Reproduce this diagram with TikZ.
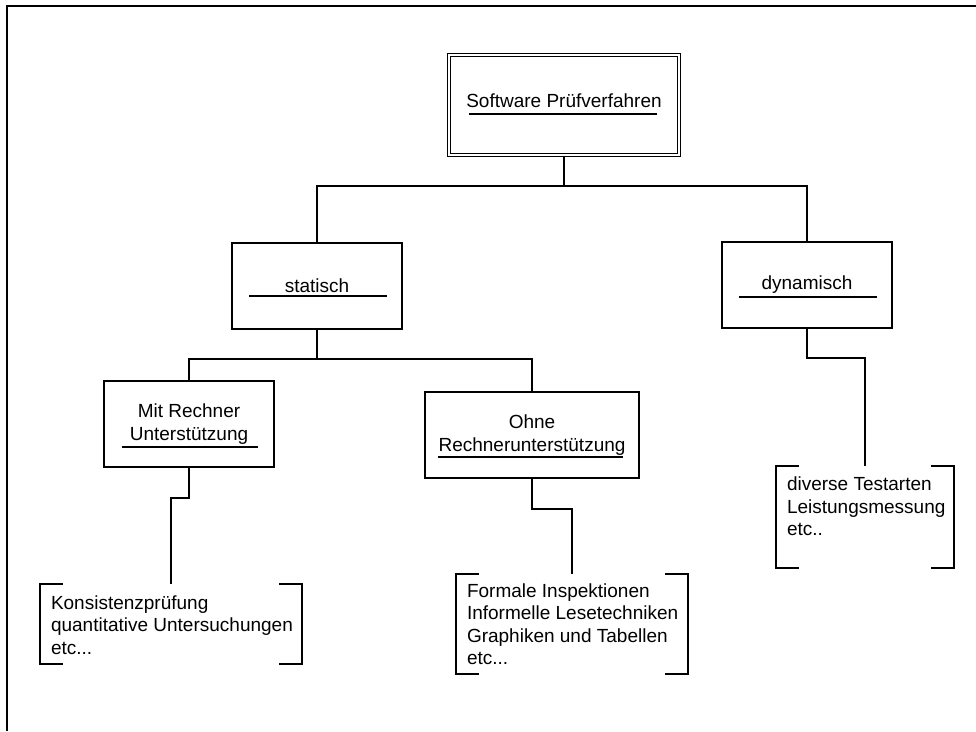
\documentclass[tikz,border=0pt]{standalone}
\usepackage{fontspec}
\setmainfont{Liberation Sans}
\usetikzlibrary{calc}

\newcommand{\klammern}[1]{%
  \draw[linie] ([xshift=23pt]#1.north west) -| (#1.south west) -- ++(23,0);
  \draw[linie] ([xshift=-23pt]#1.north east) -| (#1.south east) -- ++(-23,0);}

\begin{document}
\begin{tikzpicture}[x=1pt,y=-1pt]
    \tikzstyle{every node}=[font=\fontsize{19}{22.5}\selectfont]
    \tikzstyle{linie}=[line width=2pt]
    \tikzstyle{kasten}=[draw, line width=2pt, minimum width=170pt, minimum height=86pt, align=center, inner sep=0pt]
    \tikzstyle{klammer}=[inner sep=0pt]
    \tikzstyle{liste}=[align=left, inner sep=0pt]
    \useasboundingbox (0,0) rectangle (976,731);
    \draw[line width=2pt] (7,731) -- (7,6) -- (976,6);

    % Kaesten
    \node[kasten, double, line width=1.2pt, double distance=2.5pt, minimum width=230pt, minimum height=100pt, text depth=8pt] (pruef) at (564,105) {Software Prüfverfahren};
    \node[kasten] (stat) at (317,286) {statisch};
    \node[kasten] (dyn) at (807,285) {dynamisch};
    \node[kasten] (mit) at (189,424) {Mit Rechner\\Unterstützung};
    \node[kasten, minimum width=214pt] (ohne) at (532,435) {Ohne\\Rechnerunterstützung};

    \draw[linie] ($(pruef.center)+(-95,9)$) -- ++(188,0);
    \draw[linie] ($(stat.center)+(-68,10)$) -- ++(138,0);
    \draw[linie] ($(dyn.center)+(-68,12)$) -- ++(138,0);
    \draw[linie] ($(mit.center)+(-67,23)$) -- ++(136,0);
    \draw[linie] ($(ohne.center)+(-94,22)$) -- ++(185,0);

    % Klammern
    \node[klammer, minimum width=262pt, minimum height=80pt] (kons) at (171,624) {};
    \node[liste, anchor=west] (konstxt) at ($(kons.west)+(11,1)$) {Konsistenzprüfung\\quantitative Untersuchungen\\etc...};
    \node[klammer, minimum width=232pt, minimum height=100pt] (formal) at (572,624) {};
    \node[liste, anchor=west] (formaltxt) at ($(formal.west)+(11,0)$) {Formale Inspektionen\\Informelle Lesetechniken\\Graphiken und Tabellen\\etc...};
    \node[klammer, minimum width=178pt, minimum height=102pt] (divers) at (865,517) {};
    \node[liste, anchor=north west] (diverstxt) at ($(divers.north west)+(11,11)$) {diverse Testarten\\Leistungsmessung\\etc..};
    \klammern{kons}
    \klammern{formal}
    \klammern{divers}

    % Verbindungen
    \draw[linie] (pruef.south) -- ++(0,30) -| (stat.north);
    \draw[linie] (pruef.south) -- ++(0,30) -| (dyn.north);
    \draw[linie] (stat.south) -- ++(0,29) -| (mit.north);
    \draw[linie] (stat.south) -- ++(0,29) -| (ohne.north);
    \draw[linie] (mit.south) -- ++(0,30) -| (kons.north);
    \draw[linie] (ohne.south) -- ++(0,30) -| (formal.north);
    \draw[linie] (dyn.south) -- ++(0,29) -| (divers.north);
\end{tikzpicture}
\end{document}
